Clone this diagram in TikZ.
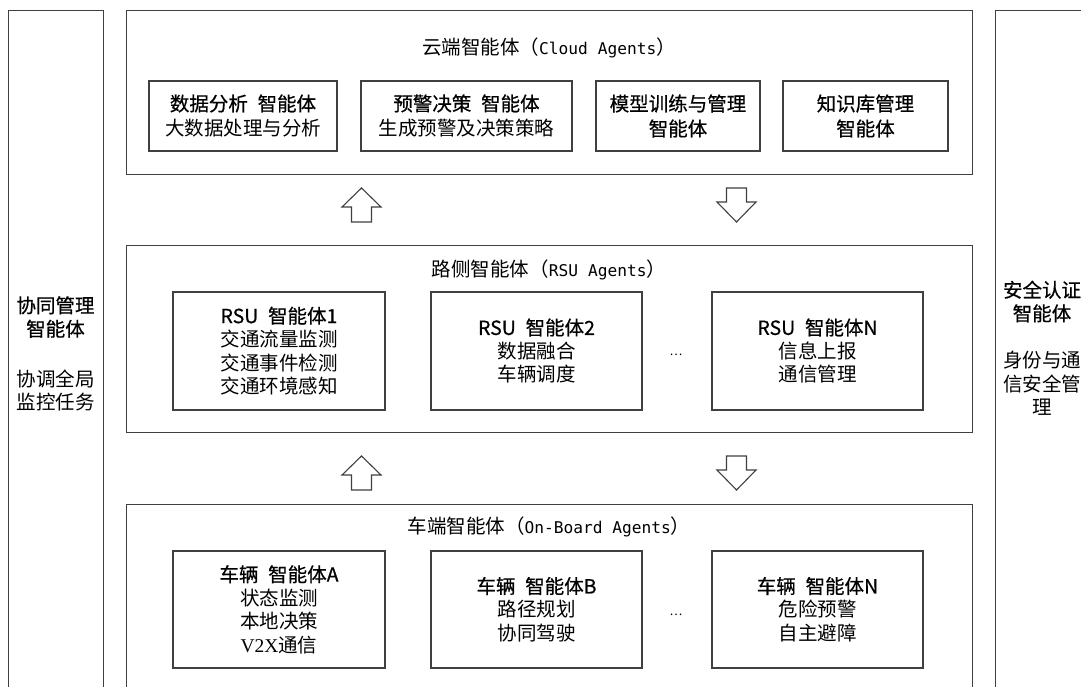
\documentclass[tikz,border=0pt]{standalone}
\usepackage{fontspec}
\setmainfont{Noto Sans CJK SC}
\newfontfamily\hdfont{Noto Sans CJK SC}[FakeBold=0.6]
\newfontfamily\latinmono{DejaVu Sans Mono}
\newfontfamily\latinserif{Liberation Serif}
\newcommand\cjksize{\fontsize{19.5}{23.5}\selectfont}
\newcommand\monosize{\fontsize{16.2}{23.5}\selectfont}
\newcommand\hd[1]{{\hdfont #1}}
\tikzset{
  frame/.style={draw=black!75, line width=1.1pt, fill=white, inner sep=0pt, rectangle},
  agent/.style={frame, align=center, font=\cjksize},
  plain/.style={inner sep=0pt, align=center, font=\cjksize},
  arrowline/.style={draw=black!75, line width=1.1pt, fill=white, line join=miter},
  uparr/.pic={\draw[arrowline] (0,0) -- (19.5,19) -- (10,19) -- (10,34) -- (-10,34) -- (-10,19) -- (-19.5,19) -- cycle;},
  downarr/.pic={\draw[arrowline] (-10,0) -- (10,0) -- (10,14) -- (19.5,14) -- (0,34) -- (-19.5,14) -- (-10,14) -- cycle;}
}
\begin{document}
\begin{tikzpicture}[x=1pt,y=-1pt]
\useasboundingbox (0,0) rectangle (1081,686);
\clip (0,0) rectangle (1081,686);
\fill[white] (0,0) rectangle (1081,686);

% side columns
\node[frame, anchor=north west, minimum width=95pt, minimum height=700pt] (lbox) at (8,10) {};
\node[plain] (lhead) at (55.5,317) {\hd{协同管理}\\\hd{智能体}};
\node[plain] (ltext) at (55.5,390.5) {协调全局\\监控任务};

\node[frame, anchor=north west, minimum width=100pt, minimum height=700pt] (rbox) at (995,10) {};
\node[plain] (rhead) at (1042,301.5) {\hd{安全认证}\\\hd{智能体}};
\node[plain] (rtext) at (1042,383.5) {身份与通\\信安全管\\理};

% cloud layer
\node[frame, anchor=north west, minimum width=846pt, minimum height=164pt] (cloud) at (126,10) {};
\node[plain] (ctitle) at (549,48) {云端智能体（{\latinmono\monosize Cloud Agents}）};
\node[agent, minimum width=188pt, minimum height=70pt] (c1) at (243,116) {\hd{数据分析\hspace{0.5em}智能体}\\[1.5pt]大数据处理与分析};
\node[agent, minimum width=211pt, minimum height=70pt] (c2) at (466.5,116) {\hd{预警决策\hspace{0.5em}智能体}\\[1.5pt]生成预警及决策策略};
\node[agent, minimum width=164pt, minimum height=70pt] (c3) at (678,116) {\hd{模型训练与管理}\\[1.5pt]\hd{智能体}};
\node[agent, minimum width=165pt, minimum height=70pt] (c4) at (865.5,116) {\hd{知识库管理}\\[1.5pt]\hd{智能体}};

% arrows cloud <-> rsu
\pic (ua1) at (361.5,188) {uparr};
\pic (da1) at (736.5,188) {downarr};

% RSU layer
\node[frame, anchor=north west, minimum width=846pt, minimum height=187pt] (rsu) at (126,245) {};
\node[plain] (rtitle) at (549,270) {路侧智能体（{\latinmono\monosize RSU Agents}）};
\node[agent, minimum width=212pt, minimum height=118pt] (r1) at (279,351) {\hd{RSU\hspace{0.5em}智能体1}\\交通流量监测\\交通事件检测\\交通环境感知};
\node[agent, minimum width=211pt, minimum height=118pt] (r2) at (536.5,351) {\hd{RSU\hspace{0.5em}智能体2}\\数据融合\\车辆调度};
\node[plain] (rdots) at (676,355) {\fontsize{12}{14}\selectfont …};
\node[agent, minimum width=211pt, minimum height=118pt] (r3) at (817.5,351) {\hd{RSU\hspace{0.5em}智能体N}\\信息上报\\通信管理};

% arrows rsu <-> vehicle
\pic (ua2) at (361.5,456) {uparr};
\pic (da2) at (736.5,456) {downarr};

% on-board layer
\node[frame, anchor=north west, minimum width=846pt, minimum height=200pt] (obu) at (126,504) {};
\node[plain] (otitle) at (549,527) {车端智能体（{\latinmono\monosize On-Board Agents}）};
\node[agent, minimum width=212pt, minimum height=117pt] (b1) at (279,609.5) {\hd{车辆\hspace{0.5em}智能体A}\\状态监测\\本地决策\\{\latinserif V2X}通信};
\node[agent, minimum width=211pt, minimum height=117pt] (b2) at (536.5,609.5) {\hd{车辆\hspace{0.5em}智能体B}\\路径规划\\协同驾驶};
\node[plain] (bdots) at (676,615) {\fontsize{12}{14}\selectfont …};
\node[agent, minimum width=211pt, minimum height=117pt] (b3) at (817.5,609.5) {\hd{车辆\hspace{0.5em}智能体N}\\危险预警\\自主避障};
\end{tikzpicture}
\end{document}
